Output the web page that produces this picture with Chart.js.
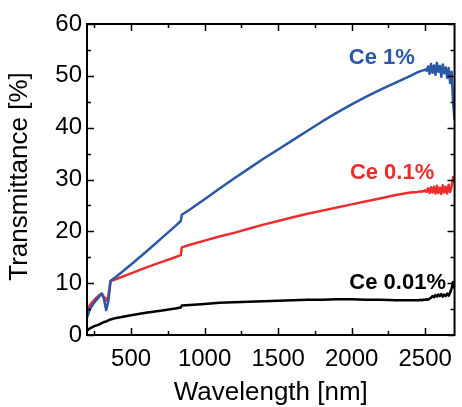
<!DOCTYPE html>
<html lang="en">
<head>
    <meta charset="UTF-8">
    <title>Transmittance vs Wavelength</title>
    <script src="https://cdn.jsdelivr.net/npm/chart.js"></script>
    <style>
        * { margin: 0; padding: 0; }
        body { background: #fff; width: 462px; height: 407px; overflow: hidden; }
    </style>
</head>
<body>
    <canvas id="chart" width="462" height="407"></canvas>
    <script>
        // wavelength samples (nm); dense at the long end where the spectra get noisy
        const wavelengths = [200, 220, 250, 280, 300, 315, 330, 345, 360, 400, 500, 600, 700, 800, 838, 845, 900,
            1000, 1100, 1200, 1300, 1400, 1500, 1600, 1700, 1800, 1900, 2000, 2100, 2200, 2300, 2400,
            2450, 2460, 2470, 2480, 2490, 2500, 2510, 2520, 2530, 2540, 2550, 2560, 2570, 2580, 2590,
            2600, 2610, 2620, 2630, 2640, 2650, 2660, 2670, 2680, 2690, 2700];

        const ce1 = [3.3, 5.0, 6.3, 7.3, 8.0, 7.0, 4.8, 6.5, 10.4, 11.3, 13.6, 16.0, 18.5, 21.0, 22.0, 23.2, 24.2,
            26.2, 28.2, 30.2, 32.1, 34.0, 35.8, 37.6, 39.4, 41.2, 42.9, 44.5, 46.0, 47.4, 48.7, 50.0,
            50.7, 50.8, 50.9, 51.0, 51.1, 51.2, 51.0, 51.8, 50.4, 52.3, 50.6, 52.0, 50.2, 52.5, 50.8,
            51.9, 49.8, 52.2, 50.5, 51.6, 49.6, 51.5, 48.6, 50.8, 45.0, 41.5];

        const ce01 = [4.5, 5.8, 6.8, 7.6, 8.0, 7.4, 6.6, 7.5, 10.4, 10.8, 11.9, 13.0, 14.0, 15.0, 15.4, 16.9, 17.4,
            18.2, 19.0, 19.7, 20.5, 21.3, 22.0, 22.7, 23.4, 24.0, 24.6, 25.2, 25.8, 26.4, 27.0, 27.5,
            27.6, 27.7, 27.6, 27.8, 27.7, 27.9, 27.6, 28.3, 27.4, 28.5, 27.5, 28.6, 27.3, 28.8, 27.4,
            28.4, 27.2, 28.9, 27.5, 28.6, 27.3, 29.0, 27.6, 28.7, 30.5, 29.5];

        const ce001 = [0.8, 1.3, 1.7, 2.0, 2.3, 2.5, 2.6, 2.8, 3.0, 3.3, 3.8, 4.3, 4.7, 5.1, 5.3, 5.7, 5.8,
            6.0, 6.2, 6.3, 6.4, 6.5, 6.6, 6.7, 6.8, 6.8, 6.9, 6.9, 6.8, 6.8, 6.7, 6.7,
            6.7, 6.7, 6.8, 6.7, 6.8, 6.8, 6.9, 6.8, 7.0, 7.2, 7.5, 7.3, 7.7, 7.4, 7.8,
            7.5, 7.9, 7.4, 7.8, 7.5, 8.0, 7.6, 8.2, 9.0, 10.2, 9.0];

        const seriesNames = ['Ce 1%', 'Ce 0.1%', 'Ce 0.01%'];
        const seriesColors = ['#2a57a7', '#ec2d2d', '#000000'];
        // where each series name sits, in data units [wavelength, transmittance]
        const labelAnchors = [[2205, 53.5], [2275, 31.3], [2313, 10.0]];

        const xTicks = [500, 1000, 1500, 2000, 2500];
        const xMinor = [250, 750, 1250, 1750, 2250];
        const yTicks = [0, 10, 20, 30, 40, 50, 60];
        const yMinor = [5, 15, 25, 35, 45, 55];
        const xTitle = 'Wavelength [nm]';
        const yTitle = 'Transmittance [%]';

        const toPoints = vals => vals.map((v, i) => ({ x: wavelengths[i], y: v }));
        const FONT = '"Liberation Sans", Arial, Helvetica, sans-serif';

        // frame, inward ticks, axis titles, series labels
        const framePlugin = {
            id: 'frame',
            afterDatasetsDraw(chart) {
                const { ctx, chartArea: a, scales: { x, y } } = chart;
                ctx.save();
                ctx.strokeStyle = '#000';
                ctx.lineWidth = 1.5;
                const xtick = (vals, len) => {
                    vals.forEach(v => {
                        const px = Math.round(x.getPixelForValue(v)) + 0.5;
                        if (px < a.left || px > a.right) return;
                        ctx.beginPath();
                        ctx.moveTo(px, a.bottom); ctx.lineTo(px, a.bottom - len);
                        ctx.moveTo(px, a.top); ctx.lineTo(px, a.top + len);
                        ctx.stroke();
                    });
                };
                const ytick = (vals, len) => {
                    vals.forEach(v => {
                        const py = Math.round(y.getPixelForValue(v)) + 0.5;
                        ctx.beginPath();
                        ctx.moveTo(a.left, py); ctx.lineTo(a.left + len, py);
                        ctx.moveTo(a.right, py); ctx.lineTo(a.right - len, py);
                        ctx.stroke();
                    });
                };
                xtick(xTicks, 7); xtick(xMinor, 4);
                ytick(yTicks, 7); ytick(yMinor, 4);
                ctx.lineWidth = 2;
                ctx.strokeRect(a.left, a.top, a.right - a.left, a.bottom - a.top);

                ctx.textAlign = 'center';
                ctx.textBaseline = 'middle';
                ctx.font = 'bold 22px ' + FONT;
                seriesNames.forEach((name, i) => {
                    ctx.fillStyle = seriesColors[i];
                    ctx.fillText(name, x.getPixelForValue(labelAnchors[i][0]), y.getPixelForValue(labelAnchors[i][1]));
                });

                ctx.fillStyle = '#000';
                ctx.font = '26px ' + FONT;
                ctx.fillText(xTitle, (a.left + a.right) / 2, 393);
                ctx.translate(20, (a.top + a.bottom) / 2 - 3);
                ctx.rotate(-Math.PI / 2);
                ctx.fillText(yTitle, 0, 0);
                ctx.restore();
            }
        };

        new Chart(document.getElementById('chart'), {
            type: 'line',
            data: {
                datasets: [
                    { label: seriesNames[0], data: toPoints(ce1), borderColor: seriesColors[0] },
                    { label: seriesNames[1], data: toPoints(ce01), borderColor: seriesColors[1] },
                    { label: seriesNames[2], data: toPoints(ce001), borderColor: seriesColors[2] }
                ]
            },
            options: {
                responsive: false,
                animation: false,
                layout: { padding: { top: 24, right: 2, left: 0, bottom: 0 } },
                elements: {
                    point: { radius: 0 },
                    line: { borderWidth: 2.5, tension: 0, borderJoinStyle: 'round' }
                },
                plugins: { legend: { display: false }, tooltip: { enabled: false } },
                scales: {
                    x: {
                        type: 'linear', min: 200, max: 2700,
                        grid: { display: false, drawTicks: false },
                        border: { display: false },
                        afterBuildTicks: s => { s.ticks = xTicks.map(v => ({ value: v })); },
                        afterFit: s => { s.height = 72; },
                        ticks: { color: '#000', padding: 10, maxRotation: 0, callback: v => String(v), font: { family: FONT, size: 24 } }
                    },
                    y: {
                        min: 0, max: 60,
                        grid: { display: false, drawTicks: false },
                        border: { display: false },
                        afterBuildTicks: s => { s.ticks = yTicks.map(v => ({ value: v })); },
                        afterFit: s => { s.width = 87; },
                        ticks: { color: '#000', padding: 5, callback: v => String(v), font: { family: FONT, size: 24 } }
                    }
                }
            },
            plugins: [framePlugin]
        });
    </script>
</body>
</html>
